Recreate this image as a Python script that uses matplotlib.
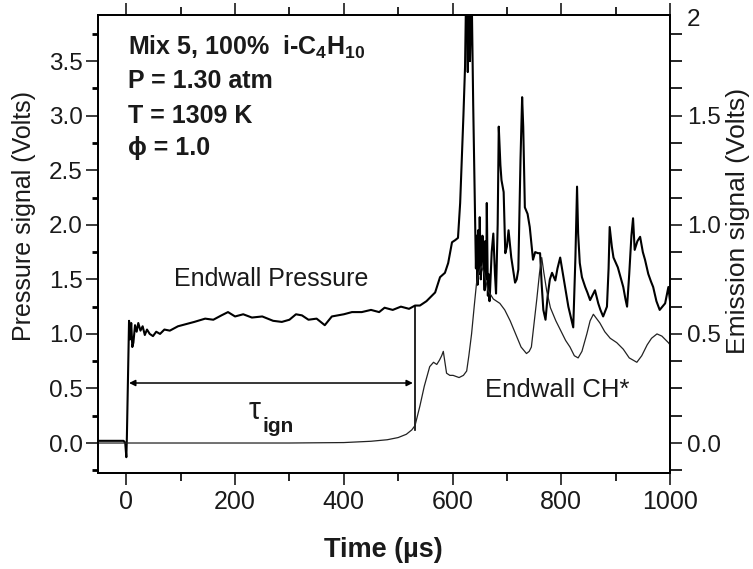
import matplotlib
matplotlib.use("Agg")
import matplotlib.pyplot as plt
from matplotlib.ticker import MultipleLocator, FixedLocator

plt.rcParams['font.family'] = ['Liberation Sans', 'DejaVu Sans']
plt.rcParams['mathtext.fontset'] = 'custom'
plt.rcParams['mathtext.rm'] = 'Liberation Sans'
plt.rcParams['mathtext.bf'] = 'Liberation Sans:bold'
plt.rcParams['mathtext.it'] = 'Liberation Sans:italic'

# ---- data ----
t_pressure = [-53, -20, -5, -2, 0, 1, 3, 5, 7, 9, 11, 13, 16, 19, 22, 26, 30, 34, 38, 43,
              49, 55, 62, 70, 80, 95, 110, 125, 145, 160, 175, 187, 200, 215, 231, 250, 270,
              286, 300, 312, 323, 335, 350, 365, 378, 389, 400, 415, 433, 450, 465, 475, 490,
              505, 520, 531, 540, 552, 560, 568, 577, 586, 592, 599, 605, 610, 614, 617, 620,
              623, 626, 628, 630, 632, 635, 638, 641, 643, 644, 646, 647, 649, 650, 652, 653,
              655, 657, 659, 660, 662, 663, 665, 666, 668, 669, 672, 675, 678, 680, 683, 685,
              688, 690, 694, 697, 700, 703, 708, 715, 718, 721, 725, 728, 730, 733, 738, 742,
              748, 752, 757, 761, 764, 767, 771, 775, 779, 783, 789, 793, 798, 803, 807, 813,
              820, 822, 826, 829, 831, 834, 838, 844, 848, 853, 858, 862, 868, 872, 877, 884,
              887, 889, 893, 896, 904, 909, 914, 918, 921, 925, 929, 932, 935, 940, 945, 950,
              954, 960, 965, 969, 975, 981, 986, 991, 997, 1000]
p_pressure = [0.02, 0.02, 0.02, 0.0, -0.13, 0.05, 0.6, 1.12, 0.95, 1.10, 0.88, 0.92, 1.08, 1.02,
              1.10, 1.03, 1.07, 0.99, 1.04, 1.00, 0.98, 1.02, 1.00, 1.04, 1.03, 1.07, 1.09, 1.11,
              1.14, 1.13, 1.17, 1.20, 1.16, 1.18, 1.15, 1.16, 1.12, 1.11, 1.13, 1.18, 1.17, 1.13,
              1.14, 1.08, 1.16, 1.17, 1.18, 1.20, 1.20, 1.22, 1.20, 1.24, 1.22, 1.25, 1.23, 1.26,
              1.26, 1.30, 1.34, 1.38, 1.52, 1.56, 1.65, 1.84, 1.86, 1.88, 2.2, 2.6, 3.0, 3.45,
              4.5, 3.4, 4.5, 3.5, 4.2, 3.1, 2.2, 1.6, 1.9, 1.45, 1.95, 1.55, 2.07, 1.5, 1.60,
              1.9, 1.70, 1.4, 1.85, 1.5, 2.20, 1.35, 1.55, 1.3, 1.40, 1.75, 1.92, 1.55, 1.37,
              2.0, 2.90, 2.55, 2.41, 2.30, 1.74, 1.80, 1.95, 1.70, 1.47, 1.50, 1.59, 2.6, 3.17,
              2.9, 2.16, 2.1, 1.98, 1.68, 1.75, 1.74, 1.74, 1.45, 1.22, 1.13, 1.35, 1.50, 1.56,
              1.49, 1.60, 1.70, 1.55, 1.43, 1.25, 1.10, 1.06, 1.7, 2.35, 1.92, 1.65, 1.52, 1.43,
              1.38, 1.31, 1.36, 1.40, 1.28, 1.22, 1.16, 1.25, 1.6, 1.98, 1.80, 1.70, 1.61, 1.52,
              1.43, 1.32, 1.25, 1.55, 1.90, 2.06, 1.77, 1.85, 1.89, 1.75, 1.68, 1.55, 1.48, 1.43,
              1.30, 1.22, 1.25, 1.28, 1.43, 1.30]

t_emission = [-53, 0, 100, 300, 400, 450, 480, 500, 515, 525, 531, 536, 540, 548, 558, 565, 571,
              576, 580, 583, 586, 589, 595, 601, 612, 620, 626, 630, 635, 640, 644, 648, 653,
              658, 665, 675, 687, 696, 706, 716, 726, 736, 741, 745, 750, 755, 760, 764, 768,
              773, 780, 790, 798, 808, 816, 824, 831, 838, 847, 853, 859, 865, 871, 880, 890,
              902, 914, 925, 939, 948, 958, 966, 976, 985, 997, 1000]
e_emission = [0.0, 0.0, 0.0, 0.0, 0.002, 0.008, 0.015, 0.025, 0.04, 0.06, 0.08, 0.13, 0.17, 0.26,
              0.35, 0.37, 0.36, 0.38, 0.40, 0.42, 0.37, 0.32, 0.31, 0.31, 0.30, 0.31, 0.33, 0.40,
              0.50, 0.63, 0.73, 0.78, 0.81, 0.78, 0.70, 0.66, 0.64, 0.61, 0.56, 0.50, 0.44, 0.41,
              0.42, 0.44, 0.55, 0.66, 0.78, 0.85, 0.78, 0.70, 0.62, 0.56, 0.52, 0.47, 0.44, 0.40,
              0.39, 0.42, 0.50, 0.56, 0.59, 0.57, 0.55, 0.51, 0.48, 0.46, 0.43, 0.39, 0.37, 0.40,
              0.45, 0.48, 0.50, 0.49, 0.46, 0.45]

tau_ign = 531           # ignition delay (µs)
tau_arrow_level = 0.55  # pressure-axis level of the tau arrow
tau_line_bottom = 0.12
tau_line_top = 1.26

x_ticks = [0, 200, 400, 600, 800, 1000]
left_ticks = [0.0, 0.5, 1.0, 1.5, 2.0, 2.5, 3.0, 3.5]
right_ticks = [0.0, 0.5, 1.0, 1.5]

info_lines = [r"Mix 5, 100%  i-C$_\mathbf{4}$H$_\mathbf{10}$",
              "P = 1.30 atm",
              "T = 1309 K",
              "\u03d5 = 1.0"]

# ---- figure ----
fig = plt.figure(figsize=(7.53, 5.69), dpi=100)
ax = fig.add_axes([0.1295, 0.1687, 0.7603, 0.8049])
ax2 = ax.twinx()

txt_col = '#1a1a1a'
ax.plot(t_pressure, p_pressure, color='black', lw=1.5, zorder=3)
ax2.plot(t_emission, e_emission, color='#222222', lw=0.9, zorder=2)

ax.set_xlim(-53, 1000)
ax.set_ylim(-0.275, 3.923)
ax2.set_ylim(-0.1375, 1.9615)

# tau annotation
ax.plot([tau_ign, tau_ign], [tau_line_bottom, tau_line_top], color='black', lw=1.2, zorder=3)
ax.annotate('', xy=(tau_ign - 4, tau_arrow_level), xytext=(5, tau_arrow_level),
            arrowprops=dict(arrowstyle='<|-|>', color='black', lw=1.1,
                            mutation_scale=9, shrinkA=0, shrinkB=0))
ax.text(236, 0.29, "\u03c4", fontsize=22, ha='center', va='center', color=txt_col)
ax.text(251, 0.15, "ign", fontsize=15, fontweight='bold', ha='left', va='center',
        color=txt_col)

ax.text(88, 1.50, "Endwall Pressure", fontsize=18, ha='left', va='center', color=txt_col)
ax.text(660, 0.49, "Endwall CH*", fontsize=18.5, ha='left', va='center', color=txt_col)

for s, yy in zip(info_lines, [0.930, 0.856, 0.779, 0.710]):
    ax.text(0.053, yy, s, transform=ax.transAxes, fontsize=18, fontweight='bold',
            ha='left', va='center', color=txt_col)

# ticks
ax.xaxis.set_major_locator(FixedLocator(x_ticks))
ax.xaxis.set_minor_locator(MultipleLocator(100))
ax.yaxis.set_major_locator(FixedLocator(left_ticks))
ax.yaxis.set_minor_locator(MultipleLocator(0.25))
ax.set_yticklabels([f"{v:.1f}" for v in left_ticks])
ax2.yaxis.set_major_locator(FixedLocator(right_ticks))
ax2.yaxis.set_minor_locator(MultipleLocator(0.125))
ax2.set_yticklabels([f"{v:.1f}" for v in right_ticks])

ax.tick_params(axis='x', which='major', direction='out', length=8.5, width=1.2, labelsize=18,
               colors=txt_col, top=True, pad=4)
ax.tick_params(axis='x', which='minor', direction='out', length=5.5, width=1.2, top=True)
ax.tick_params(axis='y', which='major', direction='out', length=8.5, width=1.2, labelsize=17.5,
               colors=txt_col, pad=2)
ax.tick_params(axis='y', which='minor', direction='out', length=4, width=2)
ax2.tick_params(axis='y', which='major', direction='out', length=8.5, width=1.2, labelsize=17.5,
                colors=txt_col, pad=4)
ax2.tick_params(axis='y', which='minor', direction='out', length=8.5, width=1.2)

for a in (ax, ax2):
    for sp in a.spines.values():
        sp.set_linewidth(1.3)
        sp.set_color('black')

ax.text(1.03, 0.989, "2", transform=ax.transAxes, fontsize=17.5, ha='left', va='center',
        color=txt_col)

ax.set_xlabel("Time (\u00b5s)", fontsize=19.5, fontweight='bold', color=txt_col)
ax.xaxis.label.set_va('center')
ax.xaxis.set_label_coords(0.5, -0.168)
ax.set_ylabel("Pressure signal (Volts)", fontsize=18, color=txt_col)
ax.yaxis.label.set_va('center')
ax.yaxis.label.set_ha('center')
ax.yaxis.set_label_coords(-0.128, 0.561)
ax2.set_ylabel("Emission signal (Volts)", fontsize=19, color=txt_col)
ax2.yaxis.label.set_va('center')
ax2.yaxis.label.set_ha('center')
ax2.yaxis.set_label_coords(1.119, 0.55)

fig.savefig("out.png", dpi=100)
